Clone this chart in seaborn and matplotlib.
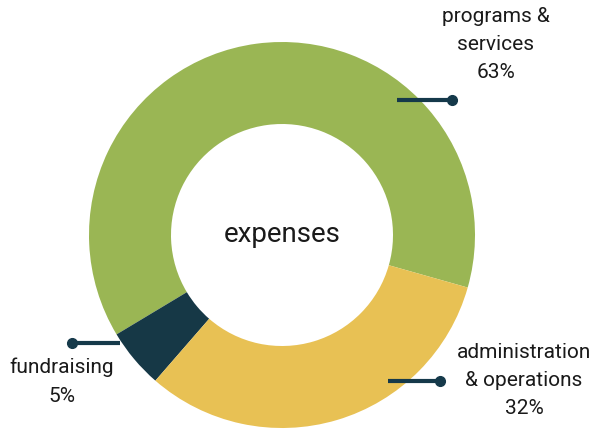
import matplotlib
matplotlib.use("Agg")
import matplotlib.pyplot as plt
import seaborn as sns

categories = ["programs & services", "fundraising", "administration & operations"]
values = [63, 5, 32]
pct_labels = ["63%", "5%", "32%"]
colors = ["#9AB654", "#163846", "#E8C154"]

sns.set_theme(style="white")
plt.rcParams["font.family"] = ["Liberation Sans Narrow", "Roboto", "DejaVu Sans"]

W, H = 600, 437
fig = plt.figure(figsize=(6, 4.37), dpi=100)
ax = fig.add_axes([0, 0, 1, 1])

cx, cy = 282, H - 235
R = 193
wedges, _ = ax.pie(values, colors=colors, startangle=-15.8, counterclock=True,
                   center=(cx, cy), radius=R, frame=True,
                   wedgeprops=dict(width=82, linewidth=0))
ax.set_xlim(0, W)
ax.set_ylim(0, H)
ax.set_aspect("auto")
ax.axis("off")

ink = "#1a1a1a"
line_c = "#15394A"
fs = 15

ax.text(cx, cy, "expenses", ha="center", va="center", fontsize=20, color=ink)

# programs & services
ax.plot([397, 452], [H - 100, H - 100], color=line_c, lw=3, solid_capstyle="butt")
ax.plot([452], [H - 100], "o", color=line_c, ms=7)
ax.text(496, H - 17, "programs &", ha="center", va="center", fontsize=fs, color=ink)
ax.text(496, H - 44, "services", ha="center", va="center", fontsize=fs, color=ink)
ax.text(496, H - 73, pct_labels[0], ha="center", va="center", fontsize=fs, color=ink)

# fundraising
ax.plot([72, 120], [H - 343, H - 343], color=line_c, lw=3, solid_capstyle="butt")
ax.plot([72], [H - 343], "o", color=line_c, ms=7)
ax.text(62, H - 367, "fundraising", ha="center", va="center", fontsize=fs, color=ink)
ax.text(62, H - 396, pct_labels[1], ha="center", va="center", fontsize=fs, color=ink)

# administration & operations
ax.plot([388, 440], [H - 381, H - 381], color=line_c, lw=3, solid_capstyle="butt")
ax.plot([440], [H - 381], "o", color=line_c, ms=7)
ax.text(524, H - 352, "administration", ha="center", va="center", fontsize=fs, color=ink)
ax.text(524, H - 380, "& operations", ha="center", va="center", fontsize=fs, color=ink)
ax.text(524, H - 409, pct_labels[2], ha="center", va="center", fontsize=fs, color=ink)

fig.savefig("out.png", dpi=100)
